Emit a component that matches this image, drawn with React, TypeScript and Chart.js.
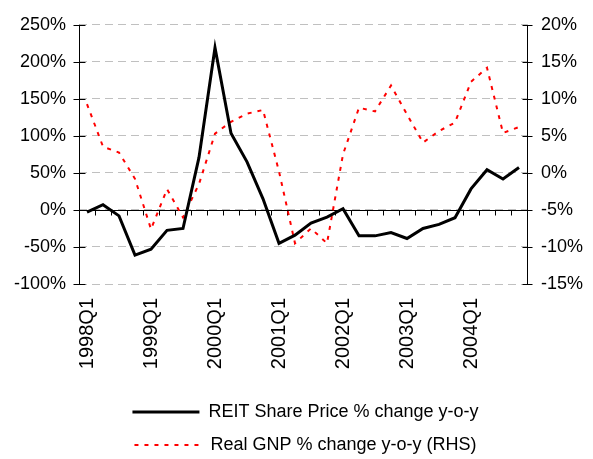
import { useEffect, useRef } from 'react';
import { Chart, registerables } from 'chart.js';

Chart.register(...registerables);

const quarters = [
  '1998Q1', '1998Q2', '1998Q3', '1998Q4',
  '1999Q1', '1999Q2', '1999Q3', '1999Q4',
  '2000Q1', '2000Q2', '2000Q3', '2000Q4',
  '2001Q1', '2001Q2', '2001Q3', '2001Q4',
  '2002Q1', '2002Q2', '2002Q3', '2002Q4',
  '2003Q1', '2003Q2', '2003Q3', '2003Q4',
  '2004Q1', '2004Q2', '2004Q3', '2004Q4',
];

const reitChange = [
  -3, 7, -8, -61, -53, -27.5, -25, 71, 219, 103.5, 65, 15, -45, -34,
  -17.6, -9.6, 1.6, -35, -35, -30.6, -38.6, -25, -19.5, -10.5, 28.4, 54.3, 41.8, 57.4,
];

const gnpChange = [
  9.3, 3.55, 2.75, -0.8, -7.6, -2.2, -6.0, -1.5, 5.3, 6.9, 8.0, 8.5, 0.2, -9.5,
  -7.5, -9.5, 2.5, 8.8, 8.3, 11.8, 7.9, 4.1, 5.65, 6.8, 12.3, 14.2, 5.4, 6.2,
];

const reitLabel = 'REIT Share Price % change y-o-y';
const gnpLabel = 'Real GNP % change y-o-y (RHS)';

const FONT = '"Liberation Sans", Arial, Helvetica, sans-serif';

const axesPlugin = {
  id: 'excelAxes',
  afterLayout(chart: any) {
    const l = chart.legend;
    if (l) {
      l.left += 9;
      l.right += 9;
      l.top += 5;
      l.bottom += 5;
    }
  },
  beforeDatasetsDraw(chart: any) {
    const { ctx, chartArea, scales } = chart;
    const x = scales.x;
    const y = scales.y;
    const y1 = scales.y1;
    ctx.save();
    ctx.strokeStyle = '#000';
    ctx.lineWidth = 1;
    ctx.setLineDash([]);
    ctx.beginPath();
    // axis lines
    const lx = Math.round(chartArea.left) + 0.5;
    const rx = Math.round(chartArea.right) + 0.5;
    ctx.moveTo(lx, chartArea.top);
    ctx.lineTo(lx, chartArea.bottom + 1);
    ctx.moveTo(rx, chartArea.top);
    ctx.lineTo(rx, chartArea.bottom + 1);
    // zero line
    const zy = Math.round(y.getPixelForValue(0)) + 0.5;
    ctx.moveTo(chartArea.left, zy);
    ctx.lineTo(chartArea.right, zy);
    for (let i = 1; i < quarters.length; i++) {
      const bx = Math.round((x.getPixelForValue(i - 1) + x.getPixelForValue(i)) / 2) + 0.5;
      ctx.moveTo(bx, zy);
      ctx.lineTo(bx, zy + 5);
    }
    y.ticks.forEach((t: any) => {
      const py = Math.round(y.getPixelForValue(t.value)) + 0.5;
      ctx.moveTo(lx - 6, py);
      ctx.lineTo(lx + 6, py);
    });
    y1.ticks.forEach((t: any) => {
      const py = Math.round(y1.getPixelForValue(t.value)) + 0.5;
      ctx.moveTo(rx - 5, py);
      ctx.lineTo(rx + 5, py);
    });
    ctx.stroke();
    ctx.restore();
  },
};

export default function App() {
  const canvasRef = useRef<HTMLCanvasElement | null>(null);

  useEffect(() => {
    const canvas = canvasRef.current;
    if (!canvas) return;
    const chart = new Chart(canvas, {
      type: 'line',
      data: {
        labels: quarters,
        datasets: [
          {
            label: reitLabel,
            data: reitChange,
            yAxisID: 'y',
            borderColor: '#000000',
            backgroundColor: '#000000',
            borderWidth: 3,
            pointRadius: 0,
            pointHoverRadius: 0,
            tension: 0,
            fill: false,
          },
          {
            label: gnpLabel,
            data: gnpChange,
            yAxisID: 'y1',
            borderColor: '#ff0000',
            backgroundColor: '#ff0000',
            borderWidth: 2,
            borderDash: [4, 6],
            pointRadius: 0,
            pointHoverRadius: 0,
            tension: 0,
            fill: false,
          },
        ],
      },
      options: {
        animation: false,
        responsive: true,
        maintainAspectRatio: false,
        layout: { padding: { top: 23, left: 0, right: 0, bottom: 0 } },
        plugins: {
          tooltip: { enabled: false },
          legend: {
            position: 'bottom',
            align: 'center',
            labels: {
              usePointStyle: true,
              pointStyle: 'line',
              pointStyleWidth: 67,
              padding: 15,
              color: '#000',
              font: { family: FONT, size: 18 },
              generateLabels(c: any) {
                const items = (Chart as any).defaults.plugins.legend.labels.generateLabels(c);
                return items.map((it: any) => {
                  const ds: any = c.data.datasets[it.datasetIndex];
                  return {
                    ...it,
                    lineWidth: ds.borderWidth,
                    lineDash: ds.borderDash || [],
                    strokeStyle: ds.borderColor,
                    pointStyle: 'line',
                  };
                });
              },
            },
          },
        },
        scales: {
          x: {
            type: 'category',
            offset: true,
            grid: { display: false, drawTicks: false },
            border: { display: false },
            ticks: {
              autoSkip: false,
              minRotation: 90,
              maxRotation: 90,
              padding: 14,
              color: '#000',
              font: { family: FONT, size: 20 },
              callback: (_v: any, i: number) => (quarters[i].endsWith('Q1') ? quarters[i] : ''),
            },
            afterFit: (s: any) => {
              s.height = 99;
            },
          },
          y: {
            position: 'left',
            min: -100,
            max: 250,
            ticks: {
              stepSize: 50,
              padding: 13,
              color: '#000',
              font: { family: FONT, size: 18 },
              callback: (v: any) => `${v}%`,
            },
            grid: { color: '#c0c0c0', lineWidth: 1, drawTicks: false },
            border: { display: false, dash: [8, 5] },
            afterFit: (s: any) => {
              s.width = 79;
            },
          },
          y1: {
            position: 'right',
            min: -15,
            max: 20,
            ticks: {
              stepSize: 5,
              padding: 14,
              color: '#000',
              font: { family: FONT, size: 18 },
              callback: (v: any) => `${v}%`,
            },
            grid: { display: false, drawTicks: false },
            border: { display: false },
            afterFit: (s: any) => {
              s.width = 66;
            },
          },
        },
      },
      plugins: [axesPlugin],
    } as any);
    return () => chart.destroy();
  }, []);

  return (
    <div style={{ position: 'fixed', left: 0, top: 0, width: 593, height: 459, background: '#fff' }}>
      <canvas ref={canvasRef} />
    </div>
  );
}
